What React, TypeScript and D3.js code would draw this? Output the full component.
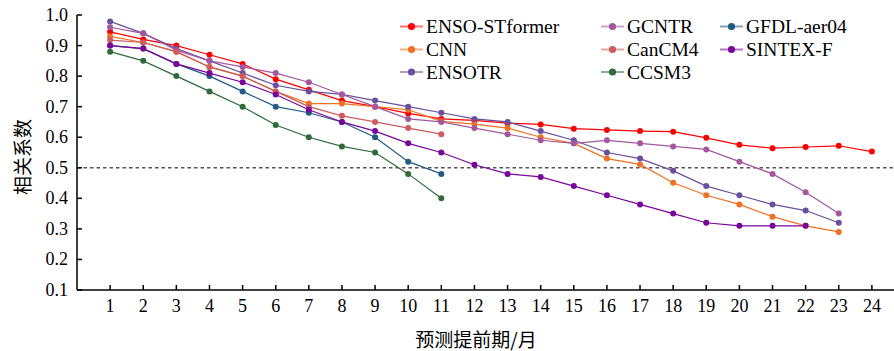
import React from 'react';
import * as d3 from 'd3';

// lead months 1..24
const leads = d3.range(1, 25);

const ensoStformer = [0.945, 0.92, 0.9, 0.87, 0.84, 0.79, 0.755, 0.72, 0.7, 0.678, 0.66, 0.655, 0.646, 0.642, 0.628, 0.624, 0.62, 0.618, 0.598, 0.575, 0.564, 0.568, 0.572, 0.553];
const cnn = [0.93, 0.91, 0.88, 0.83, 0.8, 0.75, 0.71, 0.71, 0.7, 0.69, 0.652, 0.643, 0.63, 0.6, 0.58, 0.53, 0.511, 0.451, 0.41, 0.38, 0.34, 0.31, 0.29];
const ensotr = [0.979, 0.94, 0.89, 0.85, 0.81, 0.77, 0.75, 0.74, 0.72, 0.7, 0.68, 0.66, 0.65, 0.62, 0.59, 0.55, 0.53, 0.49, 0.44, 0.41, 0.38, 0.36, 0.32];
const gcntr = [0.96, 0.94, 0.885, 0.85, 0.83, 0.81, 0.78, 0.74, 0.7, 0.66, 0.65, 0.63, 0.61, 0.59, 0.58, 0.59, 0.58, 0.57, 0.56, 0.52, 0.48, 0.42, 0.35];
const canCM4 = [0.918, 0.91, 0.88, 0.83, 0.8, 0.75, 0.7, 0.67, 0.65, 0.63, 0.61];
const ccsm3 = [0.88, 0.85, 0.8, 0.75, 0.7, 0.64, 0.6, 0.57, 0.55, 0.48, 0.4];
const gfdl = [0.9, 0.89, 0.84, 0.8, 0.75, 0.7, 0.68, 0.65, 0.6, 0.52, 0.48];
const sintex = [0.9, 0.89, 0.84, 0.81, 0.78, 0.74, 0.69, 0.65, 0.62, 0.58, 0.55, 0.51, 0.48, 0.47, 0.44, 0.41, 0.38, 0.35, 0.32, 0.31, 0.31, 0.31];

const yTicks = [0.1, 0.2, 0.3, 0.4, 0.5, 0.6, 0.7, 0.8, 0.9, 1.0];

const series = [
  { name: 'ENSO-STformer', color: '#ff0000', values: ensoStformer },
  { name: 'CNN', color: '#f07124', values: cnn },
  { name: 'ENSOTR', color: '#6a509c', values: ensotr },
  { name: 'GCNTR', color: '#a3579f', values: gcntr },
  { name: 'CanCM4', color: '#cd5c5c', values: canCM4 },
  { name: 'CCSM3', color: '#2f6b3c', values: ccsm3 },
  { name: 'GFDL-aer04', color: '#215a85', values: gfdl },
  { name: 'SINTEX-F', color: '#78069b', values: sintex },
];

const serif = '"Liberation Serif", "Times New Roman", serif';
const cjk = '"Noto Sans CJK SC", sans-serif';

export default function App() {
  const width = 894;
  const height = 351;
  const left = 77;
  const top = 15;
  const bottom = 290;

  const x = d3.scaleLinear().domain([0, 24.6]).range([left, left + 24.6 * 33.12]);
  const y = d3.scaleLinear().domain([0.1, 1.0]).range([bottom, top]);

  const line = d3
    .line<number>()
    .x((_, i) => x(leads[i]))
    .y((d) => y(d));

  // legend laid out column by column
  const legendCols = [400, 601, 720];
  const legendRows = [26.5, 49.5, 72];

  return (
    <svg
      width={width}
      height={height}
      style={{ position: 'absolute', left: 0, top: 0, background: '#fff' }}
    >
      {/* reference line at 0.5 */}
      <line
        x1={left}
        x2={width}
        y1={y(0.5)}
        y2={y(0.5)}
        stroke="#555"
        strokeWidth={1.5}
        strokeDasharray="3.5,3"
      />

      {series.map((s) => (
        <g key={s.name}>
          <path d={line(s.values) || ''} fill="none" stroke={s.color} strokeWidth={1.2} />
          {s.values.map((v, i) => (
            <circle key={i} cx={x(leads[i])} cy={y(v)} r={3} fill={s.color} />
          ))}
        </g>
      ))}

      {/* axes */}
      <line x1={left} x2={left} y1={top} y2={bottom} stroke="#000" strokeWidth={1.5} />
      <line x1={left} x2={width} y1={bottom} y2={bottom} stroke="#000" strokeWidth={1.5} />

      {yTicks.map((t) => (
        <g key={t}>
          <line x1={left} x2={left + 5} y1={y(t)} y2={y(t)} stroke="#000" strokeWidth={1.5} />
          <text
            x={left - 9}
            y={y(t)}
            textAnchor="end"
            dominantBaseline="central"
            fontFamily={serif}
            fontSize={18}
          >
            {t.toFixed(1)}
          </text>
        </g>
      ))}

      {leads.map((t) => (
        <g key={t}>
          <line x1={x(t)} x2={x(t)} y1={bottom} y2={bottom - 5} stroke="#000" strokeWidth={1.5} />
          <text
            x={x(t)}
            y={bottom + 16}
            textAnchor="middle"
            dominantBaseline="central"
            fontFamily={serif}
            fontSize={18}
          >
            {t}
          </text>
        </g>
      ))}

      <text
        x={476}
        y={338}
        textAnchor="middle"
        dominantBaseline="central"
        fontFamily={cjk}
        fontSize={19}
      >
        预测提前期/月
      </text>
      <text
        transform={`translate(21,157) rotate(-90)`}
        textAnchor="middle"
        dominantBaseline="central"
        fontFamily={cjk}
        fontSize={19}
      >
        相关系数
      </text>

      {/* legend */}
      {series.map((s, i) => {
        const lx = legendCols[Math.floor(i / 3)];
        const ly = legendRows[i % 3];
        return (
          <g key={s.name}>
            <line
              x1={lx}
              x2={lx + 23}
              y1={ly}
              y2={ly}
              stroke={s.color}
              strokeOpacity={0.55}
              strokeWidth={2}
            />
            <circle cx={lx + 11.5} cy={ly} r={3.6} fill={s.color} />
            <text
              x={lx + 26}
              y={ly}
              dominantBaseline="central"
              fontFamily={serif}
              fontSize={19.5}
            >
              {s.name}
            </text>
          </g>
        );
      })}
    </svg>
  );
}
